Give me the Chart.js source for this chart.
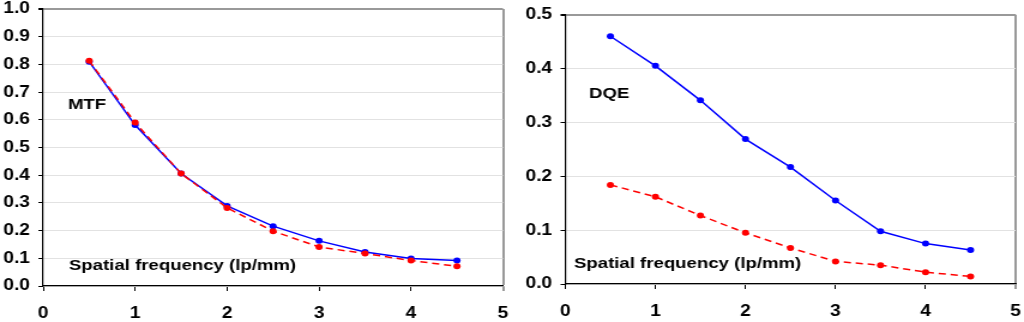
<!DOCTYPE html>
<html>
<head>
<meta charset="utf-8">
<script src="https://cdn.jsdelivr.net/npm/chart.js@4.4.1/dist/chart.umd.min.js"></script>
<style>
  html, body { margin: 0; padding: 0; background: #fff; overflow: hidden; }
  .wrap { position: absolute; top: 0; width: 427px; height: 322px; transform: scaleX(1.199); transform-origin: 0 0; }
</style>
</head>
<body>
<div class="wrap" style="left:0px"><canvas id="c1" width="427" height="322"></canvas></div>
<div class="wrap" style="left:512px"><canvas id="c2" width="427" height="322"></canvas></div>
<script>
// ---- data ----
const freq = [0.5, 1, 1.5, 2, 2.5, 3, 3.5, 4, 4.5];
const mtfBlue = [0.810, 0.581, 0.406, 0.289, 0.216, 0.163, 0.123, 0.099, 0.092];
const mtfRed  = [0.813, 0.590, 0.406, 0.282, 0.198, 0.141, 0.117, 0.092, 0.071];
const dqeBlue = [0.460, 0.405, 0.341, 0.269, 0.217, 0.155, 0.098, 0.075, 0.063];
const dqeRed  = [0.184, 0.162, 0.127, 0.095, 0.067, 0.042, 0.035, 0.022, 0.014];
const xMin = 0, xMax = 5, xStep = 1;
const mtfMax = 1.0, mtfStep = 0.1;
const dqeMax = 0.5, dqeStep = 0.1;
const mtfLabel = "MTF";
const dqeLabel = "DQE";
const xLabel = "Spatial frequency (lp/mm)";

const FONT = '"Liberation Sans", Arial, sans-serif';

function pts(xs, ys) { return xs.map((x, i) => ({ x: x, y: ys[i] })); }

function annotPlugin(items) {
  return {
    id: 'annot',
    afterDraw(chart) {
      const ctx = chart.ctx;
      ctx.save();
      ctx.font = 'bold 15.5px ' + FONT;
      ctx.fillStyle = '#000';
      ctx.textBaseline = 'middle';
      ctx.textAlign = 'left';
      items.forEach(it => ctx.fillText(it.text, it.x, it.y));
      ctx.restore();
    }
  };
}

function makeChart(id, blue, red, yMax, yStep, yWidth, xHeight, pad, items, pr) {
  return new Chart(document.getElementById(id), {
    type: 'line',
    data: {
      datasets: [
        { data: pts(freq, red), borderColor: '#ff0000', backgroundColor: '#ff0000',
          borderWidth: 1.5, borderDash: [6, 4], pointRadius: pr, pointBorderWidth: 0,
          pointBackgroundColor: '#ff0000', tension: 0 },
        { data: pts(freq, blue), borderColor: '#0000ff', backgroundColor: '#0000ff',
          borderWidth: 1.5, pointRadius: pr, pointBorderWidth: 0,
          pointBackgroundColor: '#0000ff', tension: 0 }
      ]
    },
    options: {
      responsive: false,
      animation: false,
      devicePixelRatio: 1,
      layout: { padding: pad },
      plugins: { legend: { display: false }, tooltip: { enabled: false } },
      scales: {
        x: {
          type: 'linear', min: xMin, max: xMax,
          afterFit(s) { s.height = xHeight; s.paddingLeft = 0; s.paddingRight = 0; },
          ticks: { stepSize: xStep, padding: 13, color: '#000', maxRotation: 0,
                   font: { family: FONT, size: 16, weight: 'bold' },
                   callback: v => String(v) },
          grid: {
            drawOnChartArea: true, tickLength: 5, lineWidth: c => (c.tick && c.tick.value === xMax) ? 2 : 1,
            color: c => (c.tick && c.tick.value === xMax) ? '#999999' : 'rgba(0,0,0,0)',
            tickColor: c => (c.tick && c.tick.value === xMax) ? '#999999' : '#000000'
          },
          border: { color: '#000', width: 1.2 }
        },
        y: {
          type: 'linear', min: 0, max: yMax,
          afterFit(s) { s.width = yWidth; s.paddingTop = 0; s.paddingBottom = 0; },
          ticks: { stepSize: yStep, padding: 7, color: '#000',
                   font: { family: FONT, size: 16, weight: 'bold' },
                   callback: v => Number(v).toFixed(1) },
          grid: {
            tickLength: 4,
            lineWidth: c => (c.tick && Math.abs(c.tick.value - yMax) < 1e-9) ? 2 : 1,
            color: c => (c.tick && Math.abs(c.tick.value - yMax) < 1e-9) ? '#999999' : '#e2e2e2',
            tickColor: '#000000'
          },
          border: { color: '#000', width: 1.2 }
        }
      }
    },
    plugins: [annotPlugin(items)]
  });
}

makeChart('c1', mtfBlue, mtfRed, mtfMax, mtfStep, 36, 36, { top: 9, right: 7.5, left: 0, bottom: 0 },
  [{ text: mtfLabel, x: 56.7, y: 105 }, { text: xLabel, x: 57.5, y: 266 }], 3);
makeChart('c2', dqeBlue, dqeRed, dqeMax, dqeStep, 44.5, 38, { top: 14.7, right: 7, left: 0, bottom: 0 },
  [{ text: dqeLabel, x: 64.2, y: 94 }, { text: xLabel, x: 51.7, y: 264 }], 3);
</script>
</body>
</html>
